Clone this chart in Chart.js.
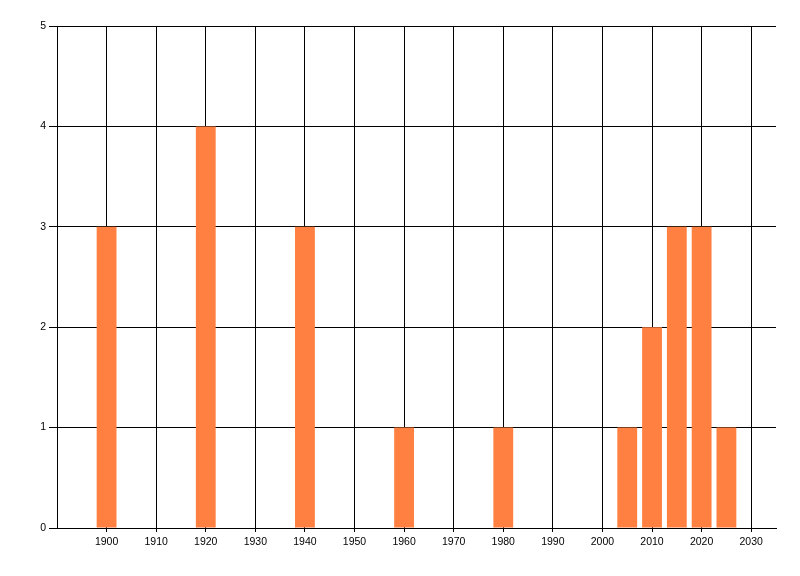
<!DOCTYPE html>
<html>
<head>
<meta charset="utf-8">
<script src="https://cdn.jsdelivr.net/npm/chart.js@4/dist/chart.umd.min.js"></script>
<style>
  html, body { margin: 0; padding: 0; background: #fff; }
  #wrap { width: 800px; height: 576px; }
</style>
</head>
<body>
<div id="wrap"><canvas id="grafico"></canvas></div>
<script>
// dati
const anni = [1900, 1920, 1940, 1960, 1980, 2005, 2010, 2015, 2020, 2025];
const conteggi = [3, 4, 3, 1, 1, 1, 2, 3, 3, 1];
const tickAnni = [1900, 1910, 1920, 1930, 1940, 1950, 1960, 1970, 1980, 1990, 2000, 2010, 2020, 2030];
const tickValori = [0, 1, 2, 3, 4, 5];

const punti = anni.map((a, i) => ({ x: a, y: conteggi[i] }));
const fontAssi = { family: 'Liberation Sans', size: 10.5 };

new Chart(document.getElementById("grafico"), {
  type: 'bar',
  data: {
    datasets: [{
      data: punti,
      backgroundColor: '#FF8040',
      borderWidth: 0,
      barPercentage: 1.0,
      categoryPercentage: 0.8
    }]
  },
  options: {
    responsive: true,
    maintainAspectRatio: false,
    animation: false,
    layout: { padding: { top: 26, right: 24, bottom: 0, left: 0 } },
    plugins: { legend: { display: false }, tooltip: { enabled: false } },
    scales: {
      x: {
        type: 'linear',
        offset: false,
        min: 1890,
        max: 2035,
        afterBuildTicks: s => { s.ticks = tickAnni.map(v => ({ value: v })); },
        afterFit: s => { s.height = 48; },
        grid: { color: '#000', lineWidth: 1, tickLength: 4, drawTicks: true, offset: false },
        border: { color: '#000', width: 1 },
        ticks: {
          color: '#000',
          padding: 4,
          maxRotation: 0,
          autoSkip: false,
          font: fontAssi,
          callback: v => String(v)
        }
      },
      y: {
        min: 0,
        max: 5,
        afterBuildTicks: s => { s.ticks = tickValori.map(v => ({ value: v })); },
        afterFit: s => { s.width = 57; },
        grid: { color: '#000', lineWidth: 1, tickLength: 8, drawTicks: true },
        border: { color: '#000', width: 1 },
        ticks: {
          color: '#000',
          padding: 3,
          font: fontAssi,
          callback: v => String(v)
        }
      }
    }
  }
});
</script>
</body>
</html>
